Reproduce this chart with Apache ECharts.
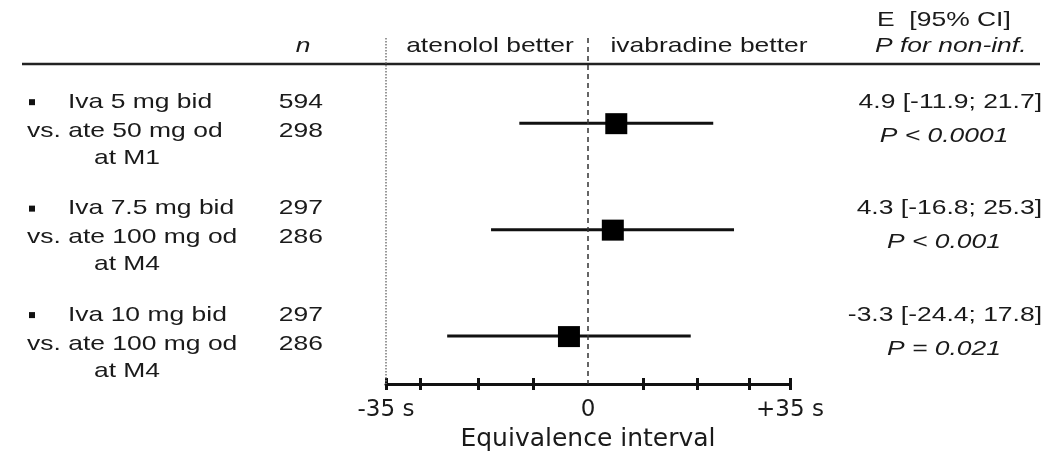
<!DOCTYPE html>
<html>
<head>
<meta charset="utf-8">
<script src="https://cdn.jsdelivr.net/npm/echarts@6/dist/echarts.min.js"></script>
<style>
html, body { margin: 0; padding: 0; background: #fff; }
#main { width: 1061px; height: 452px; }
</style>
</head>
<body>
<div id="main"></div>
<script>
// rows of the forest plot
var rows = [1, 2, 3];
var drugLines = ['Iva 5 mg bid', 'Iva 7.5 mg bid', 'Iva 10 mg bid'];
var compLines = ['vs. ate 50 mg od', 'vs. ate 100 mg od', 'vs. ate 100 mg od'];
var visitLines = ['at M1', 'at M4', 'at M4'];
var nIva = [594, 297, 297];
var nAte = [298, 286, 286];
var estimate = [4.9, 4.3, -3.3];
var ciLow = [-11.9, -16.8, -24.4];
var ciHigh = [21.7, 25.3, 17.8];
var pText = ['P < 0.0001', 'P < 0.001', 'P = 0.021'];

// axis
var tickValues = [-35, -29, -19, -9.5, 9.5, 19, 28, 35];
var labelValues = [-35, 0, 35];

var SX = 1.26;
var FONT = 'Liberation Sans';
var INK = '#1a1a1a';

var myChart = echarts.init(document.getElementById('main'));

var seriesData = rows.map(function (r, i) {
    return [ciLow[i], ciHigh[i], estimate[i], r];
});

option = {
    animation: false,
    grid: { left: 386, right: 271, top: 38, bottom: 68, outerBoundsMode: 'none', containLabel: false },
    xAxis: [
        {
            type: 'value', min: -35, max: 35, position: 'bottom',
            splitLine: { show: false },
            axisLine: { lineStyle: { color: '#111', width: 3 } },
            axisTick: { customValues: tickValues, length: 6, lineStyle: { color: '#111', width: 3 } },
            axisLabel: {
                customValues: labelValues, margin: 15,
                fontFamily: 'DejaVu Sans', fontSize: 23, color: INK,
                formatter: function (v) {
                    if (v === 0) return '0';
                    return (v > 0 ? '+' : '') + v + ' s';
                }
            },
            name: 'Equivalence interval', nameLocation: 'middle', nameGap: 41,
            nameTextStyle: { fontFamily: 'DejaVu Sans', fontSize: 25, color: INK }
        },
        {
            type: 'value', min: -35, max: 35, position: 'bottom', offset: 0,
            splitLine: { show: false },
            axisLine: { show: false },
            axisTick: { customValues: tickValues, inside: true, length: 6, lineStyle: { color: '#111', width: 3 } },
            axisLabel: { show: false }
        }
    ],
    yAxis: { type: 'value', min: 0.2, max: 3.45, inverse: true, show: false },
    series: [
        {
            type: 'custom',
            xAxisIndex: 0,
            encode: { x: [0, 1, 2], y: 3 },
            data: seriesData,
            renderItem: function (params, api) {
                var lo = api.coord([api.value(0), api.value(3)]);
                var hi = api.coord([api.value(1), api.value(3)]);
                var mid = api.coord([api.value(2), api.value(3)]);
                return {
                    type: 'group',
                    children: [
                        { type: 'line', shape: { x1: lo[0], y1: lo[1], x2: hi[0], y2: hi[1] },
                          style: { stroke: '#111', lineWidth: 3 } },
                        { type: 'rect', shape: { x: mid[0] - 11, y: mid[1] - 10, width: 22, height: 21 },
                          style: { fill: '#000' } }
                    ]
                };
            },
            markLine: {
                silent: true, symbol: 'none', label: { show: false },
                data: [
                    { xAxis: -35, lineStyle: { type: 'dotted', color: '#777', width: 1.5 } },
                    { xAxis: 0, lineStyle: { type: [5, 4], color: '#333', width: 1.5 } }
                ]
            }
        }
    ]
};

myChart.setOption(option);

function txt(x, y, s, align, extra) {
    var style = { text: s, align: align, verticalAlign: 'middle', fontFamily: FONT, fontSize: 21, fill: INK };
    for (var k in extra) style[k] = extra[k];
    return { type: 'text', x: x, y: y, scaleX: SX, style: style, silent: true };
}

var els = [];
// header
els.push({ type: 'line', shape: { x1: 22, y1: 64, x2: 1040, y2: 64 }, style: { stroke: '#222', lineWidth: 2.5 }, silent: true });
els.push(txt(303, 46, 'n', 'center', { fontStyle: 'italic' }));
els.push(txt(490, 46, 'atenolol better', 'center'));
els.push(txt(709, 46, 'ivabradine better', 'center'));
els.push(txt(877, 20, 'E  [95% CI]', 'left'));
els.push(txt(875, 46, 'P for non-inf.', 'left', { fontStyle: 'italic' }));

rows.forEach(function (r, i) {
    var py = myChart.convertToPixel({ gridIndex: 0 }, [0, r])[1];
    els.push({ type: 'rect', shape: { x: 29, y: py - 24, width: 6, height: 6 }, style: { fill: '#111' }, silent: true });
    els.push(txt(68, py - 21, drugLines[i], 'left'));
    els.push(txt(27, py + 8, compLines[i], 'left'));
    els.push(txt(127, py + 35, visitLines[i], 'center'));
    els.push(txt(323, py - 21, String(nIva[i]), 'right'));
    els.push(txt(323, py + 8, String(nAte[i]), 'right'));
    var e = estimate[i].toFixed(1) + ' [' + ciLow[i].toFixed(1) + '; ' + ciHigh[i].toFixed(1) + ']';
    els.push(txt(1042, py - 21, e, 'right'));
    els.push(txt(944, py + 13, pText[i], 'center', { fontStyle: 'italic' }));
});

myChart.setOption({ graphic: { elements: els } });
</script>
</body>
</html>
